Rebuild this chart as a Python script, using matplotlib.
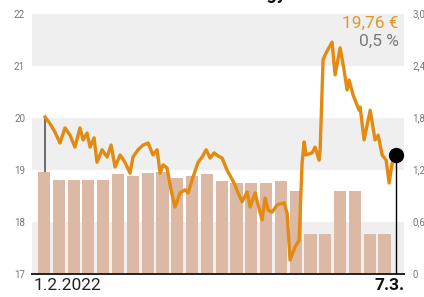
#!/usr/bin/env python3

"""Siemens Energy share price (line) with daily bars, 1.2.2022 - 7.3.2022."""

import matplotlib
matplotlib.use('Agg')
import matplotlib.pyplot as plt

# trading-day bars (right axis)
bar_values = [1.17, 1.08, 1.08, 1.08, 1.08, 1.15, 1.12, 1.16,
              1.17, 1.10, 1.12, 1.15, 1.07, 1.05, 1.05, 1.05,
              1.07, 0.95, 0.46, 0.46, 0.95, 0.95, 0.46, 0.46]

# price line: time in trading days, price in euro (left axis)
line_t = [0.07, 0.41, 0.74, 1.08, 1.42, 1.76, 2.09, 2.43,
          2.64, 2.91, 3.11, 3.38, 3.58, 3.92, 4.26, 4.53,
          4.80, 5.14, 5.47, 5.81, 6.01, 6.35, 6.69, 7.03,
          7.36, 7.64, 7.84, 8.04, 8.31, 8.58, 8.85, 9.19,
          9.53, 9.73, 10.07, 10.41, 10.68, 10.95, 11.22, 11.49,
          11.76, 12.03, 12.36, 12.84, 13.11, 13.38, 13.72, 13.92,
          14.26, 14.46, 14.73, 14.93, 15.14, 15.41, 15.74, 16.22,
          16.42, 16.62, 16.96, 17.23, 17.43, 17.57, 17.70, 18.11,
          18.31, 18.58, 18.65, 18.85, 19.05, 19.46, 19.66, 20.00,
          20.27, 20.47, 20.61, 20.88, 21.28, 21.35, 21.62, 22.03,
          22.36, 22.57, 22.84, 23.11, 23.31, 23.51, 23.78]
line_price = [20.01, 19.88, 19.72, 19.51, 19.80, 19.66, 19.43, 19.80,
              19.57, 19.70, 19.43, 19.61, 19.14, 19.38, 19.24, 19.47,
              19.05, 19.28, 19.14, 18.93, 19.24, 19.38, 19.47, 19.51,
              19.28, 19.38, 18.93, 19.09, 19.03, 18.61, 18.28, 18.55,
              18.61, 18.55, 18.86, 19.14, 19.24, 19.38, 19.22, 19.32,
              19.26, 19.22, 18.99, 18.74, 18.55, 18.38, 18.57, 18.28,
              18.55, 18.32, 18.03, 18.45, 18.22, 18.18, 18.32, 18.36,
              18.16, 17.26, 17.51, 17.64, 19.12, 19.53, 19.28, 19.32,
              19.43, 19.18, 19.38, 21.11, 21.24, 21.45, 20.82, 21.34,
              20.91, 20.53, 20.72, 20.43, 20.14, 20.20, 19.57, 20.14,
              19.57, 19.66, 19.28, 19.18, 18.74, 19.12, 19.28]

price_ticks = [17, 18, 19, 20, 21, 22]
bar_ticks = [0, 0.6, 1.2, 1.8, 2.4, 3.0]
bar_tick_labels = ['0', '0,6', '1,2', '1,8', '2,4', '3,0']
title = 'Siemens Energy'
start_label = '1.2.2022'
end_label = '7.3.'
last_price_label = '19,76 €'
change_label = '0,5 %'

plt.rcParams['font.family'] = ['Roboto', 'DejaVu Sans']

fig = plt.figure(figsize=(4.24, 2.97), dpi=100)
ax = fig.add_axes([0.0755, 0.079, 0.8775, 0.8755])
ax2 = ax.twinx()

# bars on the lower (right-scale) axes
ax.set_ylim(bar_ticks[0], bar_ticks[-1])
ax.set_xlim(-0.81, 24.32)
for lo, hi in zip(bar_ticks[0::2], bar_ticks[1::2]):
    ax.axhspan(lo, hi, color='#efefef', lw=0, zorder=0)
ax.bar(range(len(bar_values)), bar_values, width=0.82, color='#dcb9a4',
       zorder=2)

# start marker line, behind the bars
scale = (bar_ticks[-1] - bar_ticks[0]) / (price_ticks[-1] - price_ticks[0])
ax.plot([line_t[0], line_t[0]],
        [0, (line_price[0] - price_ticks[0]) * scale],
        color='#555555', lw=1.2, zorder=1)

ax.set_yticks(bar_ticks)
ax.set_yticklabels(bar_tick_labels)
ax.yaxis.tick_right()
ax.tick_params(axis='y', length=0, pad=6, labelsize=7, labelcolor='#777777')
ax.set_xticks([])
for s in ['left', 'right', 'top']:
    ax.spines[s].set_visible(False)
ax.spines['bottom'].set_linewidth(1.4)
ax.spines['bottom'].set_color('#222222')

# price line
ax2.set_ylim(price_ticks[0], price_ticks[-1])
ax2.plot(line_t, line_price, color='#e38a10', lw=2.4, zorder=3,
         solid_joinstyle='round')
ax2.plot([line_t[-1], line_t[-1]], [price_ticks[0], line_price[-1]],
         color='black', lw=1.0)
ax2.plot(line_t[-1], line_price[-1], 'o', color='black', ms=10, zorder=4)
ax2.set_yticks(price_ticks)
ax2.yaxis.tick_left()
ax2.tick_params(axis='y', length=0, pad=5, labelsize=7, labelcolor='#777777')
for s in ax2.spines.values():
    s.set_visible(False)

ax2.text(0.985, 0.99, last_price_label, transform=ax2.transAxes,
         ha='right', va='top', fontsize=12.5, color='#e0982a')
ax2.text(0.985, 0.92, change_label, transform=ax2.transAxes,
         ha='right', va='top', fontsize=12.5, color='#7a7a7a')

fig.text(0.078, 0.015, start_label, ha='left', va='bottom', fontsize=12.5,
         color='#222222')
fig.text(0.955, 0.015, end_label, ha='right', va='bottom', fontsize=12.5,
         fontweight='bold', color='#111111')
# title sits above the crop; only its lowest pixels show
fig.text(0.52, 1.004, title, ha='center', va='baseline', fontsize=13,
         fontweight='bold', color='#111111')

plt.savefig('out.png', dpi=100)
